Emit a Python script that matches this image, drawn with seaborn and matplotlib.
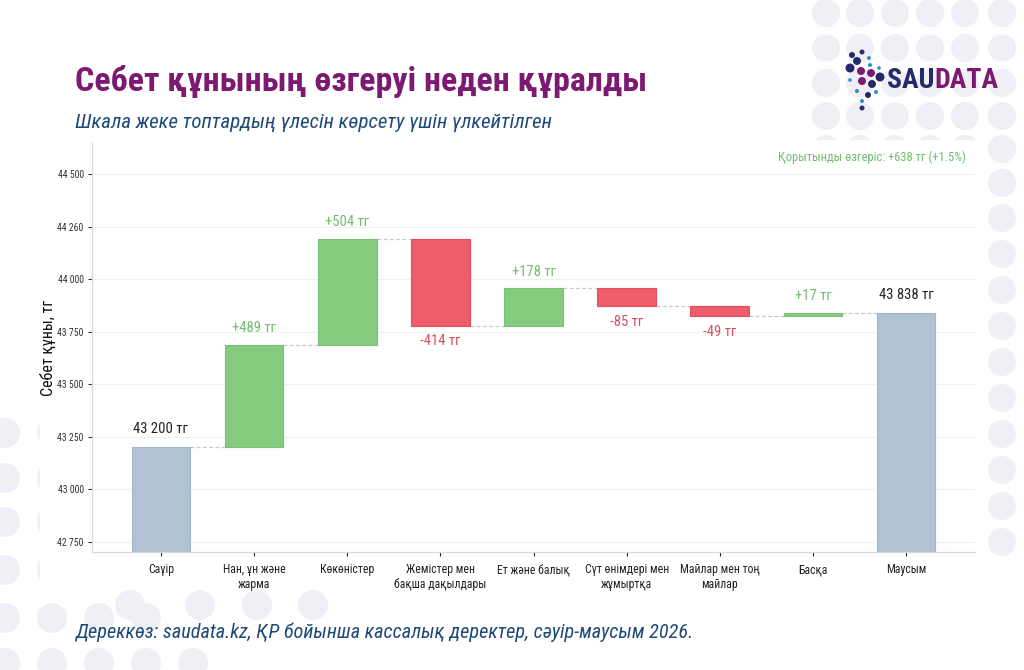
import numpy as np
import pandas as pd
import seaborn as sns
import matplotlib.pyplot as plt
from matplotlib.patches import Ellipse, FancyBboxPatch

# data
categories = ['Саүір', 'Нан, ұн және\nжарма', 'Көкөністер', 'Жемістер мен\nбақша дақылдары',
              'Ет және балық', 'Сүт өнімдері мен\nжұмыртқа', 'Майлар мен тоң\nмайлар', 'Басқа', 'Маусым']
start_value = 43200
deltas = [489, 504, -414, 178, -85, -49, 17]
end_value = 43838
total_change = 638
total_pct = 1.5

y_ticks = [42750, 43000, 43250, 43500, 43750, 44000, 44250, 44500]
y_tick_labels = ['42 750', '43 000', '43 250', '43 500', '43 750', '44 000', '44 260', '44 500']

c_total = '#b1c2d5'
c_up = '#85cb80'
c_down = '#ee5d69'
c_up_txt = '#72bd6e'
c_down_txt = '#d8505c'
purple = '#7b1a70'
navy = '#1f4a78'

sns.set_theme(style='white')
plt.rcParams['font.family'] = ['Roboto Condensed', 'Roboto', 'DejaVu Sans']

# build waterfall table
running = [start_value]
for d in deltas:
    running.append(running[-1] + d)
lows, highs, kinds = [0], [start_value], ['total']
for i, d in enumerate(deltas):
    lows.append(min(running[i], running[i + 1]))
    highs.append(max(running[i], running[i + 1]))
    kinds.append('up' if d > 0 else 'down')
lows.append(0)
highs.append(end_value)
kinds.append('total')
df = pd.DataFrame({'cat': categories, 'low': lows, 'high': highs, 'kind': kinds})
df['height'] = df['high'] - df['low']

fig = plt.figure(figsize=(10.24, 6.7), dpi=100)
fig.patch.set_facecolor('white')

# background dots
W, H = 1024, 670
def fig_circle(x, y, r, c='#f0eff6', z=0):
    fig.patches.append(Ellipse((x / W, 1 - y / H), 2 * r / W, 2 * r / H, transform=fig.transFigure,
                               facecolor=c, edgecolor='none', zorder=z))
for yy in [13, 48, 83, 116, 149, 183]:
    for xx in [826, 860, 895, 930, 965, 1002]:
        fig_circle(xx, yy, 14)
for yy in range(218, 560, 36):
    fig_circle(1002, yy, 14)
    fig_circle(966, yy, 14)
for j, yy in enumerate([433, 478, 522, 570, 618, 663]):
    n = 2 + max(0, j - 2)
    for i in range(n):
        fig_circle(5 + 47 * i, yy, 15)
for xx in [130, 200, 257, 313]:
    fig_circle(xx, 605, 15)

# white panel
fig.patches.append(FancyBboxPatch((40 / W, 1 - 588 / H), 945 / W, 448 / H,
                                  boxstyle='round,pad=0,rounding_size=0.01',
                                  transform=fig.transFigure, facecolor='white',
                                  edgecolor='none', zorder=0.5))

ax = fig.add_axes([92 / W, 1 - 552 / H, 883 / W, 409 / H])
ax.set_facecolor('none')
ax.set_zorder(1)

palette = {'total': c_total, 'up': c_up, 'down': c_down}
edges = {'total': '#a3b5ca', 'up': '#79c174', 'down': '#e24f5c'}
for k in ['total', 'up', 'down']:
    sub = df[df['kind'] == k]
    sns.barplot(data=sub, x='cat', y='height', order=categories, bottom=sub['low'].values,
                color=palette[k], edgecolor=edges[k], linewidth=0.8, width=0.63,
                errorbar=None, ax=ax, zorder=3, saturation=1)

# connectors
for i in range(len(categories) - 1):
    lvl = running[i] if i < len(running) else end_value
    ax.plot([i + 0.315, i + 1 - 0.315], [lvl, lvl], color='#c9c9c9', lw=0.9,
            ls=(0, (3, 2)), zorder=2)

# labels
fmt = lambda v: f'{v:,}'.replace(',', ' ') + ' тг'
ax.annotate(fmt(start_value), (0, start_value), xytext=(0, 8), textcoords='offset points',
            ha='center', va='bottom', fontsize=10.5, color='#222222')
ax.annotate(fmt(end_value), (len(categories) - 1, end_value), xytext=(0, 8),
            textcoords='offset points', ha='center', va='bottom', fontsize=10.5, color='#222222')
for i, d in enumerate(deltas):
    x = i + 1
    if d > 0:
        ax.annotate(f'+{d} тг', (x, highs[x]), xytext=(0, 7), textcoords='offset points',
                    ha='center', va='bottom', fontsize=10.5, color=c_up_txt)
    else:
        ax.annotate(f'{d} тг', (x, lows[x]), xytext=(0, -6), textcoords='offset points',
                    ha='center', va='top', fontsize=10.5, color=c_down_txt)

ax.text(0.99, 0.965, f'Қорытынды өзгеріс: +{total_change} тг (+{total_pct}%)',
        transform=ax.transAxes, ha='right', va='center', fontsize=9, color=c_up_txt)

ax.set_ylim(42700, 44650)
ax.set_xlim(-0.74, 8.74)
ax.set_yticks(y_ticks)
ax.set_yticklabels(y_tick_labels)
ax.yaxis.grid(True, color='#f0f0f0', lw=0.8, zorder=0)
ax.set_axisbelow(True)
ax.set_xlabel('')
ax.set_ylabel('Себет құны, тг', fontsize=11.5, color='#111111', labelpad=1)
ax.tick_params(axis='y', labelsize=7, colors='#333333', length=3, width=0.8, left=True, pad=3)
ax.tick_params(axis='x', labelsize=8.5, colors='#222222', length=3, width=0.8, bottom=True, pad=5)
for s in ['top', 'right']:
    ax.spines[s].set_visible(False)
for s in ['left', 'bottom']:
    ax.spines[s].set_color('#dcdcdc')
    ax.spines[s].set_linewidth(0.9)

# titles
fig.text(75 / W, 1 - 82 / H, 'Себет құнының өзгеруі неден құралды', fontsize=24.5,
         fontweight='bold', color=purple, va='center', ha='left')
fig.text(75 / W, 1 - 122 / H, 'Шкала жеке топтардың үлесін көрсету үшін үлкейтілген',
         fontsize=15, style='italic', color=navy, va='center', ha='left')
fig.text(75 / W, 1 - 632 / H, 'Дереккөз: saudata.kz, ҚР бойынша кассалық деректер, сәуір-маусым 2026.',
         fontsize=14.6, style='italic', color=navy, va='center', ha='left')

# logo
t1 = fig.text(887 / W, 1 - 81 / H, 'SAU', fontsize=20, fontweight='bold', color='#252a6b',
              va='center', ha='left')
fig.canvas.draw()
bb = t1.get_window_extent()
fig.text(bb.x1 / W, 1 - 81 / H, 'DATA', fontsize=20, fontweight='bold', color=purple,
         va='center', ha='left')
logo_dots = [(862, 52, '#252a6b', 2.5), (869, 58, '#2b8fd0', 2), (857, 61, '#252a6b', 4),
             (870, 65, '#2b8fd0', 2), (861, 71, '#7b1a70', 4), (871, 73, '#7b1a70', 4),
             (879, 68, '#2b8fd0', 1.8), (850, 80, '#2b8fd0', 1.8), (862, 81, '#7b1a70', 4),
             (872, 84, '#252a6b', 4), (880, 77, '#252a6b', 4.5), (857, 91, '#2b8fd0', 2),
             (868, 95, '#252a6b', 3), (876, 92, '#2b8fd0', 2), (862, 101, '#2b8fd0', 2),
             (862, 108, '#252a6b', 2.5), (850, 68, '#252a6b', 4.5), (852, 55, '#252a6b', 3)]
for (x, y, c, r) in logo_dots:
    fig_circle(x, y, r, c, 2)

fig.savefig('out.png', dpi=100, facecolor='white')
